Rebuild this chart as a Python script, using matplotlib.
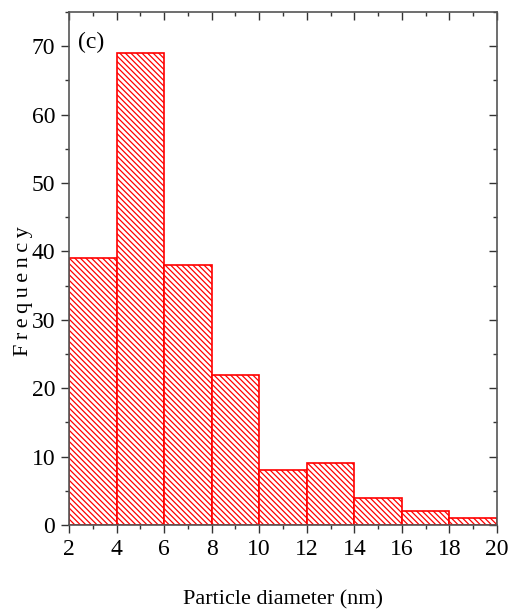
import numpy as np
import matplotlib
matplotlib.use('Agg')
import matplotlib.pyplot as plt
from matplotlib.ticker import MultipleLocator

plt.rcParams['font.family'] = 'Liberation Serif'
plt.rcParams['hatch.linewidth'] = 0.9
plt.rcParams['hatch.color'] = 'red'

bin_edges = [2, 4, 6, 8, 10, 12, 14, 16, 18, 20]
counts = [39, 69, 38, 22, 8, 9, 4, 2, 1]

fig = plt.figure(figsize=(5.09, 6.16), dpi=100)
ax = fig.add_axes([0.1356, 0.1477, 0.8408, 0.8328])

lefts = np.array(bin_edges[:-1])
widths = np.diff(bin_edges)
ax.bar(lefts, counts, width=widths, align='edge', facecolor='white',
       edgecolor='red', hatch='\\\\\\\\\\\\', linewidth=1.2)

ax.set_xlim(2, 20)
ax.set_ylim(0, 75)
ax.xaxis.set_major_locator(MultipleLocator(2))
ax.xaxis.set_minor_locator(MultipleLocator(1))
ax.yaxis.set_major_locator(MultipleLocator(10))
ax.yaxis.set_minor_locator(MultipleLocator(5))

ax.tick_params(which='both', direction='out', labelsize=17, color='#333333')
ax.tick_params(which='major', length=6, width=1, pad=4)
ax.tick_params(which='minor', length=3, width=1)
ax.tick_params(which='both', top=True, right=True)
for s in ax.spines.values():
    s.set_color('#555555')
    s.set_linewidth(1.2)

# top/right ticks point inward like the original
for t in ax.xaxis.get_major_ticks() + ax.xaxis.get_minor_ticks():
    t.tick2line.set_marker(3)
for t in ax.yaxis.get_major_ticks() + ax.yaxis.get_minor_ticks():
    t.tick2line.set_marker(0)

ax.set_xlabel('Particle diameter (nm)', fontsize=16, labelpad=22)
ax.set_ylabel('F\u2009r\u2009e\u2009q\u2009u\u2009e\u2009n\u2009c\u2009y', fontsize=16)
ax.yaxis.set_label_coords(-0.085, 0.455)
ax.text(0.02, 0.962, '(c)', transform=ax.transAxes, fontsize=17, va='top')

fig.savefig('out.png', dpi=100)
